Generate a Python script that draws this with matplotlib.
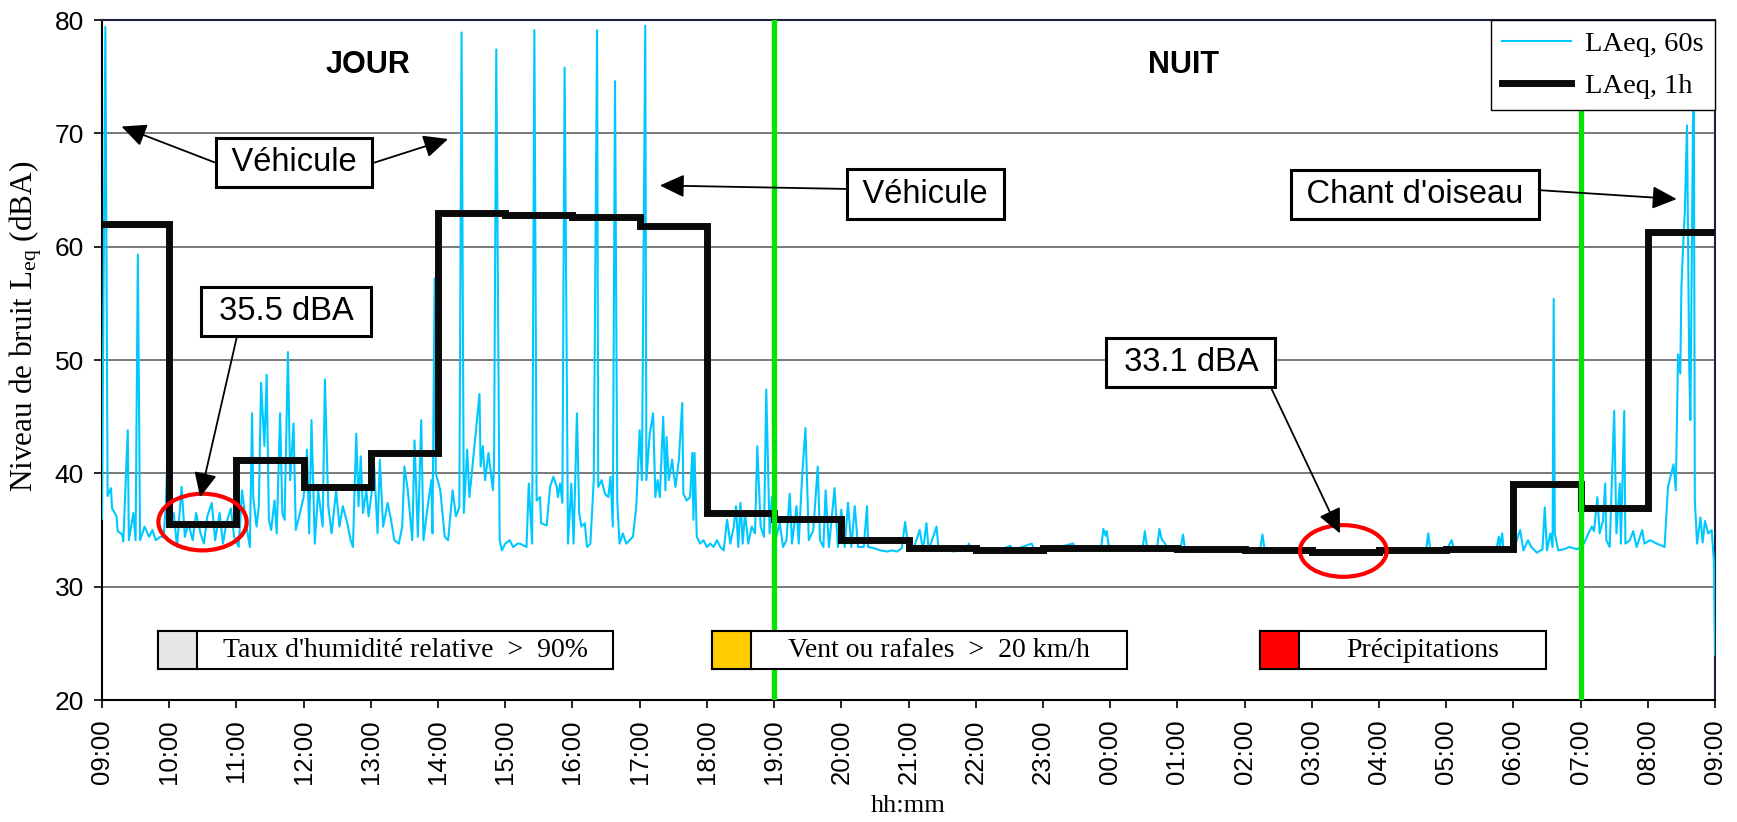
import numpy as np
import matplotlib
matplotlib.use('Agg')
import matplotlib.pyplot as plt
from matplotlib.patches import Ellipse, Rectangle

plt.rcParams['font.family'] = ['Liberation Sans', 'DejaVu Sans']
plt.rcParams['mathtext.fontset'] = 'custom'
plt.rcParams['mathtext.rm'] = 'Liberation Serif'
plt.rcParams['mathtext.it'] = 'Liberation Serif:italic'

# hour ticks, 09:00 -> 09:00 next day
hour_labels = ['09:00', '10:00', '11:00', '12:00', '13:00', '14:00', '15:00', '16:00',
               '17:00', '18:00', '19:00', '20:00', '21:00', '22:00', '23:00', '00:00',
               '01:00', '02:00', '03:00', '04:00', '05:00', '06:00', '07:00', '08:00', '09:00']

# hourly LAeq (dBA), one value per hour starting 09:00
leq_1h = [62.0, 35.5, 41.2, 38.8, 41.8, 63.0, 62.8, 62.6, 61.8, 36.5, 36.0, 34.1,
          33.4, 33.2, 33.4, 33.4, 33.3, 33.2, 33.1, 33.2, 33.3, 39.1, 36.9, 61.3]

# 1-minute LAeq (minutes after 09:00, dBA)
minutes_60s = [
    0, 3, 5, 8, 9, 13, 14, 18, 19, 23, 24, 28, 30, 32, 34, 38, 42, 45, 48, 52, 55, 57, 59,
    62, 64, 67, 71, 74, 77, 81, 84, 88, 91, 94, 98, 101, 105, 108, 111, 115, 118,
    122, 125, 129, 132, 134, 135, 138, 140, 142, 145, 147, 149, 151, 154, 156, 159, 161,
    163, 166, 168, 171, 173, 176, 180, 183, 185, 187, 190, 193, 197, 199, 202, 205, 209,
    212, 215, 219, 222, 224, 227, 229, 231, 233, 236, 238, 241, 243, 246, 248, 251, 255,
    258, 261, 265, 268, 270, 273, 277, 279, 282, 285, 287, 290, 294, 295, 297, 298, 302,
    306, 309, 313, 316, 319, 321, 323, 326, 328, 333, 337, 338, 340, 342, 345, 349, 350,
    352, 355, 357, 360, 364, 367, 371, 373, 379, 381, 384, 386, 388, 391, 392, 397, 400,
    403, 406, 407, 409, 411, 413, 416, 419, 421, 424, 426, 428, 431, 433, 436, 439, 442,
    443, 446, 449, 452, 454, 456, 458, 460, 462, 465, 468, 471, 474, 477, 480, 482, 485,
    486, 489, 492, 494, 496, 498, 501, 503, 504, 506, 509, 510, 512, 515, 518, 519, 522,
    525, 527, 528, 529, 531, 534, 537, 540, 543, 546, 549, 552, 555, 558, 561, 564, 566,
    568, 570, 572, 574, 577, 580, 583, 585, 588, 591, 593, 596, 598, 602, 605, 608, 611,
    614, 616, 620, 622, 625, 628, 631, 635, 639, 641, 644, 646, 649, 654, 657, 660, 663,
    666, 669, 672, 675, 680, 683, 684, 689, 695, 701, 705, 710, 714, 717, 720, 724, 730,
    733, 736, 738, 745, 747, 754, 760, 766, 772, 774, 776, 790, 800, 811, 813, 830, 832,
    850, 867, 869, 885, 892, 894, 896, 897, 899, 915, 929, 931, 933, 942, 944, 946, 949,
    952, 963, 965, 967, 985, 1000, 1020, 1034, 1036, 1038, 1060, 1080, 1100, 1128, 1140,
    1160, 1182, 1184, 1186, 1200, 1205, 1207, 1230, 1245, 1247, 1248, 1250, 1251, 1257,
    1261, 1266, 1269, 1273, 1276, 1281, 1286, 1288, 1290, 1293, 1295, 1296, 1297, 1300,
    1305, 1310, 1317, 1323, 1327, 1330, 1332, 1335, 1337, 1340, 1342, 1343, 1346, 1350,
    1352, 1355, 1356, 1359, 1360, 1364, 1367, 1370, 1375, 1377, 1382, 1388, 1395, 1398,
    1401, 1403, 1405, 1407, 1409, 1410, 1412, 1413, 1415, 1417, 1418, 1421, 1422, 1424,
    1427, 1429, 1431, 1434, 1437, 1439, 1440]
leq_60s = [
    36.0, 79.4, 38.0, 38.7, 36.9, 36.2, 34.9, 34.6, 34.0, 43.8, 34.1, 36.5, 34.1, 59.3, 34.1,
    35.3, 34.4, 35.0, 34.1, 34.4, 34.4, 37.1, 43.8,
    36.0, 36.5, 33.5, 38.8, 34.4, 35.6, 34.1, 36.5, 34.7, 33.8, 36.2, 37.4, 34.1, 36.5, 33.8,
    35.6, 36.9, 34.4,
    33.5, 38.5, 35.3, 33.5, 45.3, 37.9, 35.3, 37.1, 48.0, 42.4, 48.7, 35.9, 35.0, 37.6, 34.7,
    45.3, 36.5,
    35.9, 50.7, 39.4, 44.4, 35.0, 36.2, 37.9, 42.1, 34.7, 44.7, 33.8, 38.5, 35.3, 48.3, 37.1,
    34.7, 38.5,
    35.3, 37.1, 35.6, 34.1, 33.5, 43.5, 37.1, 41.5, 36.5, 38.5, 36.2, 38.5, 40.6, 34.7, 41.2,
    35.3, 37.4,
    35.9, 34.1, 33.8, 35.3, 40.6, 38.5, 34.1, 42.9, 34.4, 44.7, 34.1, 36.5, 39.4, 34.7, 57.2,
    40.0, 38.5,
    34.4, 34.1, 38.5, 36.2, 37.0, 78.9, 36.5, 42.1, 37.9, 42.9, 47.0, 40.6, 42.4, 39.4, 41.8,
    38.5, 40.9,
    77.4, 34.1, 33.2, 33.8, 34.1, 33.5, 33.8, 33.8, 33.5, 39.1, 33.8, 79.1, 37.6, 37.9, 35.6,
    35.4, 38.8,
    39.7, 38.8, 37.9, 39.1, 37.4, 75.8, 33.8, 39.1, 33.8, 45.3, 36.5, 35.3, 35.6, 33.5, 33.8,
    39.4, 79.1,
    38.8, 39.4, 38.2, 37.9, 39.7, 35.3, 74.6, 37.6, 33.8, 34.7, 33.8, 34.1, 34.4, 37.1, 43.8,
    39.4, 79.5,
    39.4, 43.5, 45.3, 37.9, 39.4, 37.9, 45.0, 38.5, 43.2, 39.4, 41.2, 40.3, 38.8, 41.2, 46.2,
    38.2, 37.6,
    37.9, 41.8, 35.9, 41.8, 34.4, 33.8, 34.1, 33.5, 33.8, 33.5, 34.1, 33.5, 33.2, 35.9, 33.8,
    35.3, 37.1,
    33.5, 37.4, 33.8, 36.5, 33.8, 35.3, 34.7, 42.4, 35.3, 34.4, 47.4, 34.7, 37.9, 34.4, 35.6,
    33.5, 34.1,
    38.2, 33.8, 37.1, 33.8, 39.7, 44.0, 34.1, 35.0, 40.6, 34.1, 33.5, 38.5, 33.5, 38.7, 33.5,
    36.8, 33.5,
    37.4, 33.5, 37.1, 33.5, 33.5, 37.1, 33.5, 33.4, 33.2, 33.1, 33.2, 33.1, 33.4, 35.7, 33.4,
    33.2, 35.0,
    33.2, 35.6, 33.2, 35.3, 33.2, 33.5, 33.1, 33.2, 33.3, 33.8, 33.2, 33.3, 33.2, 33.6, 33.2,
    33.8, 33.3,
    33.4, 33.8, 33.4, 33.4, 33.5, 35.1, 34.5, 34.9, 33.4, 33.3, 33.4, 34.9, 33.4, 33.5, 35.1,
    34.2, 33.8,
    33.3, 33.4, 34.6, 33.2, 33.1, 33.2, 33.2, 33.3, 34.6, 33.2, 33.1, 33.1, 33.1, 33.2, 33.1,
    33.1, 33.1, 34.7, 33.1, 33.2, 34.1, 33.2, 33.2, 33.4, 34.4, 33.5, 34.7, 33.5, 33.2,
    33.5, 35.0, 33.2, 34.1, 33.5, 33.0, 33.3, 37.0, 33.2, 34.7, 33.5, 55.4, 34.7, 33.2,
    33.3, 33.5, 33.3, 33.8, 34.7, 35.3, 34.9, 37.9, 34.7, 35.8, 39.1, 34.1, 33.5, 45.5,
    34.7, 39.1, 33.8, 45.5, 33.8, 34.1, 34.9, 33.5, 35.0, 33.8, 34.1, 33.8, 33.5, 38.8,
    40.0, 40.8, 38.5, 50.5, 48.8, 56.4, 61.1, 62.9, 70.7, 49.4, 44.7, 78.0, 37.6, 33.8,
    36.1, 33.9, 35.8, 34.7, 35.0, 32.3, 24.0]

# weather condition flags shown under the curves (none active this day)
cond_labels = ["Taux d'humidité relative  >  90%", 'Vent ou rafales  >  20 km/h', 'Précipitations']
cond_colors = ['#e6e6e6', '#ffcc00', '#ff0000']

CYAN = '#00c8ff'
GREEN = '#00e600'

fig = plt.figure(figsize=(17.37, 8.22), dpi=100)
ax = fig.add_axes([102 / 1737, 1 - 700 / 822, 1613 / 1737, 680 / 822])

t_hours = np.array(minutes_60s) / 60.0
ax.plot(t_hours, leq_60s, color=CYAN, lw=1.5, label='LAeq, 60s', zorder=3)
edges = np.arange(len(leq_1h) + 1)
ax.plot(edges, leq_1h + [leq_1h[-1]], drawstyle='steps-post', color='#0a0a0a', lw=5,
        solid_joinstyle='miter', label='LAeq, 1h', zorder=4)

# day / night limits
for h in (10, 22):
    ax.axvline(h, color=GREEN, lw=3.8, zorder=5)

ax.set_xlim(0, 24)
ax.set_ylim(20, 80)
ax.set_xticks(range(25))
ax.set_xticklabels(hour_labels, rotation=90, fontsize=18.5)
ax.set_yticks(range(20, 81, 10))
ax.tick_params(axis='y', labelsize=19, direction='out', length=6, width=1.2, pad=7)
ax.tick_params(axis='x', direction='out', length=6, width=1.2, pad=8)
ax.yaxis.grid(True, color='#555555', lw=1.1)
for s in ('left', 'bottom'):
    ax.spines[s].set_color('black')
    ax.spines[s].set_linewidth(1.5)
for s in ('top', 'right'):
    ax.spines[s].set_color('#1c2240')
    ax.spines[s].set_linewidth(1.5)

ax.set_xlabel('hh:mm', family='Liberation Serif', fontsize=19)
ax.xaxis.set_label_coords(0.5, -0.14)
ax.set_ylabel(r'Niveau de bruit L$_{\rm eq}$ (dBA)', family='Liberation Serif', fontsize=22.5)
ax.yaxis.set_label_coords(-0.036, 0.55)

ax.text(3.95, 75.3, 'JOUR', ha='center', va='baseline', fontsize=22, fontweight='bold')
ax.text(16.09, 75.3, 'NUIT', ha='center', va='baseline', fontsize=22, fontweight='bold')

box = dict(boxstyle='square,pad=0.28', fc='white', ec='black', lw=2.2)
ghost = dict(boxstyle='square,pad=0.28', fc='none', ec='none')
arrow = dict(arrowstyle='-|>,head_length=0.6,head_width=0.28', color='black', lw=1.3,
             mutation_scale=25, shrinkA=0, shrinkB=0)


def note(txt, xy, xytext, relpos, visible=True):
    ax.annotate(txt, xy=xy, xytext=xytext, ha='center', va='center', fontsize=23.5,
                color='black' if visible else 'none', bbox=box if visible else ghost,
                arrowprops=dict(arrow, relpos=relpos), zorder=8)


note('\u2009Véhicule\u2009', (0.29, 70.6), (2.854, 67.42), (0.0, 0.38))
note('\u2009Véhicule\u2009', (5.15, 69.5), (2.854, 67.42), (1.0, 0.38), visible=False)
note(' 35.5 dBA ', (1.46, 37.9), (2.738, 54.3), (0.19, 0.0))
note('\u2009Véhicule\u2009', (8.30, 65.4), (12.25, 64.64), (0.0, 0.66))
note(' 33.1 dBA ', (18.42, 34.7), (16.2, 49.8), (1.0, 0.0))
note("\u2009Chant d'oiseau\u2009", (23.43, 64.2), (19.54, 64.6), (1.0, 0.66))

ax.add_patch(Ellipse((1.496, 35.7), 1.314, 5.0, fill=False, ec='red', lw=3, zorder=7))
ax.add_patch(Ellipse((18.47, 33.15), 1.29, 4.56, fill=False, ec='red', lw=3, zorder=7))

# condition boxes along the bottom
cond_x = [(0.84, 7.60), (9.08, 15.25), (17.23, 21.48)]
sq = 0.577
for (x0, x1), lab, col in zip(cond_x, cond_labels, cond_colors):
    ax.add_patch(Rectangle((x0, 22.73), x1 - x0, 3.35, fc='white', ec='black', lw=1.5, zorder=6))
    ax.add_patch(Rectangle((x0, 22.73), sq, 3.35, fc=col, ec='black', lw=1.5, zorder=6))
    ax.text((x0 + sq + x1) / 2, 24.4, lab, ha='center', va='center', family='Liberation Serif',
            fontsize=20, zorder=7)

leg = ax.legend(loc='upper right', borderaxespad=0, fancybox=False, framealpha=1,
                edgecolor='black', prop={'family': 'Liberation Serif', 'size': 20.5},
                handlelength=2.4, handletextpad=0.5, borderpad=0.4, labelspacing=0.55)
leg.get_frame().set_linewidth(1.0)
leg.set_zorder(10)

fig.savefig('out.png', dpi=100)
